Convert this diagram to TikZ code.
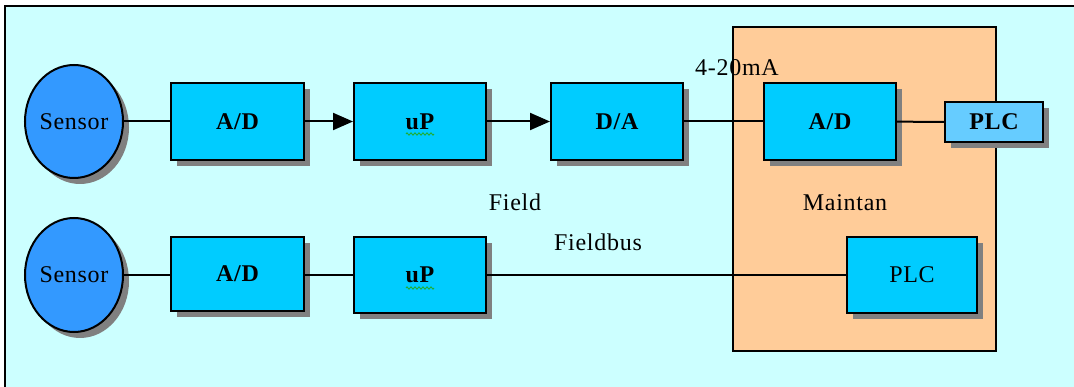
\documentclass[tikz,border=0pt]{standalone}
\usepackage{fontspec}
\setmainfont{Liberation Serif}[LetterSpace=3]
\usetikzlibrary{arrows.meta,shadows,decorations.pathmorphing,shapes.geometric}
\definecolor{bgcyan}{HTML}{CCFFFF}
\definecolor{boxblue}{HTML}{00CCFF}
\definecolor{plcblue}{HTML}{66CCFF}
\definecolor{sensorblue}{HTML}{3399FF}
\definecolor{maintorange}{HTML}{FFCC99}
\definecolor{shadowgray}{HTML}{808080}
\definecolor{spellgreen}{HTML}{22AA22}
\tikzset{
  shad/.style={drop shadow={shadow xshift=6pt, shadow yshift=-6pt, fill=shadowgray, opacity=1}},
  blockbox/.style={draw=black, line width=2pt, fill=boxblue, rectangle, inner sep=0pt, shad,
    font=\fontsize{24}{28}\selectfont\bfseries},
  sensornode/.style={draw=black, line width=2pt, fill=sensorblue, ellipse, inner sep=0pt,
    minimum width=98pt, minimum height=113pt, shad, font=\fontsize{24}{28}\selectfont},
  lbl/.style={font=\fontsize{24}{28}\selectfont, inner sep=0pt},
  wire/.style={line width=2pt, draw=black},
  arrowwire/.style={wire, -{Triangle[length=20pt,width=17pt]}},
  spell/.style={draw=spellgreen, line width=0.8pt, decorate,
    decoration={zigzag, segment length=4pt, amplitude=1.2pt}}
}
\begin{document}
\begin{tikzpicture}[x=1pt,y=-1pt]
\useasboundingbox (0,0) rectangle (1074,387);
\fill[white] (0,0) rectangle (1074,387);
\draw[line width=2pt, fill=bgcyan] (5,6) rectangle (1085,400);
% maintenance area
\draw[line width=2pt, fill=maintorange] (733,27) rectangle (996,351);
% nodes
\node[sensornode] (s1) at (74,121.5) {Sensor};
\node[sensornode, minimum height=114pt] (s2) at (74,275) {Sensor};
\node[blockbox, minimum width=133pt, minimum height=77pt] (ad1) at (237.5,121.5) {A/D};
\node[blockbox, minimum width=132pt, minimum height=77pt] (up1) at (420,121.5) {uP};
\node[blockbox, minimum width=132pt, minimum height=77pt] (da) at (617,121.5) {D/A};
\node[blockbox, minimum width=132pt, minimum height=77pt] (ad2) at (830,121.5) {A/D};
\node[blockbox, fill=plcblue, minimum width=98pt, minimum height=40pt] (plc1) at (994,122) {PLC};
\node[blockbox, minimum width=133pt, minimum height=74pt] (ad3) at (237.5,274) {A/D};
\node[blockbox, minimum width=132pt, minimum height=76pt] (up2) at (420,275) {uP};
\node[blockbox, font=\fontsize{24}{28}\selectfont, minimum width=130pt, minimum height=76pt] (plc2) at (912,275) {PLC};
% connectors
\draw[wire] (s1) -- (ad1);
\draw[arrowwire] (ad1) -- (up1);
\draw[arrowwire] (up1) -- (da);
\draw[wire] (da) -- (ad2);
\draw[wire] (ad2) -- (plc1);
\draw[wire] (s2.east) -- (ad3.west |- s2.east);
\draw[wire] (ad3.east |- s2.east) -- (up2.west |- s2.east);
\draw[wire] (up2.east) -- (plc2.west);
% spell-check underlines
\draw[spell] (406,134) -- (434,134);
\draw[spell] (406,288) -- (434,288);
% labels
\node[lbl] (l420) at (737,68) {4-20mA};
\node[lbl] (lfield) at (515,202) {Field};
\node[lbl] (lmaint) at (845,203) {Maintan};
\node[lbl] (lbus) at (598,242) {Fieldbus};
\end{tikzpicture}
\end{document}
